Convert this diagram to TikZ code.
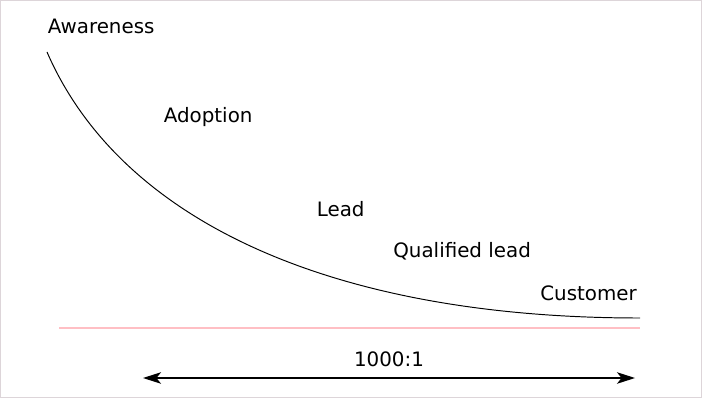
\documentclass[tikz,border=0pt]{standalone}
\usepackage{fontspec}
\setmainfont{DejaVu Sans}
\usepackage{tikz}
\usetikzlibrary{arrows.meta}
\definecolor{FrameGrey}{HTML}{DDD5D9}
\definecolor{BaseRed}{HTML}{FFBFC4}

\begin{document}
\begin{tikzpicture}[
    x=0.02cm, y=-0.02cm,
    stage/.style={
      anchor=base west,
      inner sep=0pt,
      font=\fontsize{11.3}{13}\selectfont
    },
    funnel/.style={
      line width=0.55pt,
      color=black
    },
    ratioarr/.style={
      {Stealth[length=0.36cm,width=0.23cm,inset=0.09cm]}-{Stealth[length=0.36cm,width=0.23cm,inset=0.09cm]},
      line width=0.7pt
    }
  ]
  \useasboundingbox (0,0) rectangle (702,398);

  % Frame
  \draw[FrameGrey,line width=0.02cm] (0.5,0.5) rectangle (701.5,397.5);

  % Stage labels
  \node[stage] (awareness) at (47.5,34) {Awareness};
  \node[stage] (adoption) at (163.5,122.7) {Adoption};
  \node[stage] (lead) at (316.5,216.7) {Lead};
  \node[stage] (qualified) at (393,257) {Qualified lead};
  \node[stage] (customer) at (540,300.7) {Customer};

  % Decay curve
  \coordinate (top) at (47,52);
  \coordinate (bottom) at (640,318);
  \draw[funnel] (top) .. controls (120,220) and (330,318) .. (bottom);

  % Base line
  \coordinate (baseL) at (59,328);
  \coordinate (baseR) at (640,328);
  \draw[BaseRed,line width=0.03cm] (baseL) -- (baseR);

  % Ratio
  \coordinate (ratioL) at (143,378);
  \coordinate (ratioR) at (635,378);
  \draw[ratioarr] (ratioL) -- (ratioR);
  \node[stage,anchor=base] (ratio) at (389,366.7) {1000:1};
\end{tikzpicture}
\end{document}
